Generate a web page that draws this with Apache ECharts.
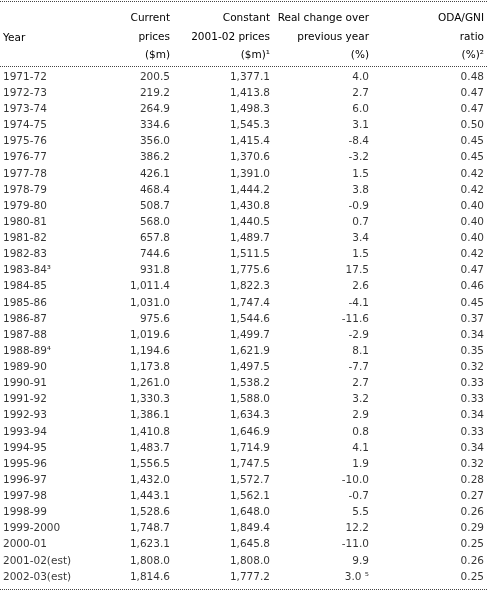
<!DOCTYPE html>
<html><head><meta charset="utf-8">
<script src="https://cdn.jsdelivr.net/npm/echarts@6/dist/echarts.min.js"></script>
<style>html,body{margin:0;padding:0;background:#fff}#c{width:488px;height:593px}</style>
</head><body><div id="c"></div>
<script>
const years=["1971-72","1972-73","1973-74","1974-75","1975-76","1976-77","1977-78","1978-79","1979-80","1980-81","1981-82","1982-83","1983-84³","1984-85","1985-86","1986-87","1987-88","1988-89⁴","1989-90","1990-91","1991-92","1992-93","1993-94","1994-95","1995-96","1996-97","1997-98","1998-99","1999-2000","2000-01","2001-02(est)","2002-03(est)"];
const current=[200.5,219.2,264.9,334.6,356.0,386.2,426.1,468.4,508.7,568.0,657.8,744.6,931.8,1011.4,1031.0,975.6,1019.6,1194.6,1173.8,1261.0,1330.3,1386.1,1410.8,1483.7,1556.5,1432.0,1443.1,1528.6,1748.7,1623.1,1808.0,1814.6];
const constant=[1377.1,1413.8,1498.3,1545.3,1415.4,1370.6,1391.0,1444.2,1430.8,1440.5,1489.7,1511.5,1775.6,1822.3,1747.4,1544.6,1499.7,1621.9,1497.5,1538.2,1588.0,1634.3,1646.9,1714.9,1747.5,1572.7,1562.1,1648.0,1849.4,1645.8,1808.0,1777.2];
const change=[4.0,2.7,6.0,3.1,-8.4,-3.2,1.5,3.8,-0.9,0.7,3.4,1.5,17.5,2.6,-4.1,-11.6,-2.9,8.1,-7.7,2.7,3.2,2.9,0.8,4.1,1.9,-10.0,-0.7,5.5,12.2,-11.0,9.9,3.0];
const oda=[0.48,0.47,0.47,0.50,0.45,0.45,0.42,0.42,0.40,0.40,0.40,0.42,0.47,0.46,0.45,0.37,0.34,0.35,0.32,0.33,0.33,0.34,0.33,0.34,0.32,0.28,0.27,0.26,0.29,0.25,0.26,0.25];
const changeNotes={31:" ⁵"};

const FONT="Tahoma, 'DejaVu Sans', sans-serif";
const fs=10.5, col='#000';
function fmt(v,d){return v.toLocaleString('en-US',{minimumFractionDigits:d,maximumFractionDigits:d});}
function colSeries(x,vals,d,pos,notes){
  return {type:'scatter',symbolSize:0,silent:true,
    data:vals.map((v,i)=>[x,i,v]),
    label:{show:true,position:pos,distance:0,color:col,fontSize:fs,fontFamily:FONT,
      formatter:p=>{const v=p.data[2];return (typeof v==='number'?fmt(v,d):v)+((notes&&notes[p.dataIndex])||'');}}};
}
const chart=echarts.init(document.getElementById('c'));
const hdr=(t,x,y,align)=>({type:'text',x:x,y:y,style:{text:t,fill:col,font:fs+'px '+FONT,align:align,verticalAlign:'middle'}});
const dots=y=>({type:'line',shape:{x1:0,y1:y,x2:488,y2:y},style:{stroke:'#444',lineWidth:1,lineDash:[1,1]}});
chart.setOption({
  animation:false,
  grid:{left:0,right:0,top:69,bottom:8},
  xAxis:{type:'value',min:0,max:488,show:false},
  yAxis:{type:'category',data:years,inverse:true,show:false},
  series:[
    colSeries(3,years,0,'right'),
    colSeries(170,current,1,'left'),
    colSeries(270,constant,1,'left'),
    colSeries(369,change,1,'left',changeNotes),
    colSeries(484,oda,2,'left')
  ],
  graphic:[
    dots(1.5),dots(66.5),dots(589.5),
    hdr('Year',3,38,'left'),
    hdr('Current',170,18,'right'),hdr('prices',170,37,'right'),hdr('($m)',170,55,'right'),
    hdr('Constant',270,18,'right'),hdr('2001-02 prices',270,37,'right'),hdr('($m)¹',270,55,'right'),
    hdr('Real change over',369,18,'right'),hdr('previous year',369,37,'right'),hdr('(%)',369,55,'right'),
    hdr('ODA/GNI',484,18,'right'),hdr('ratio',484,37,'right'),hdr('(%)²',484,55,'right')
  ]
});
</script></body></html>
